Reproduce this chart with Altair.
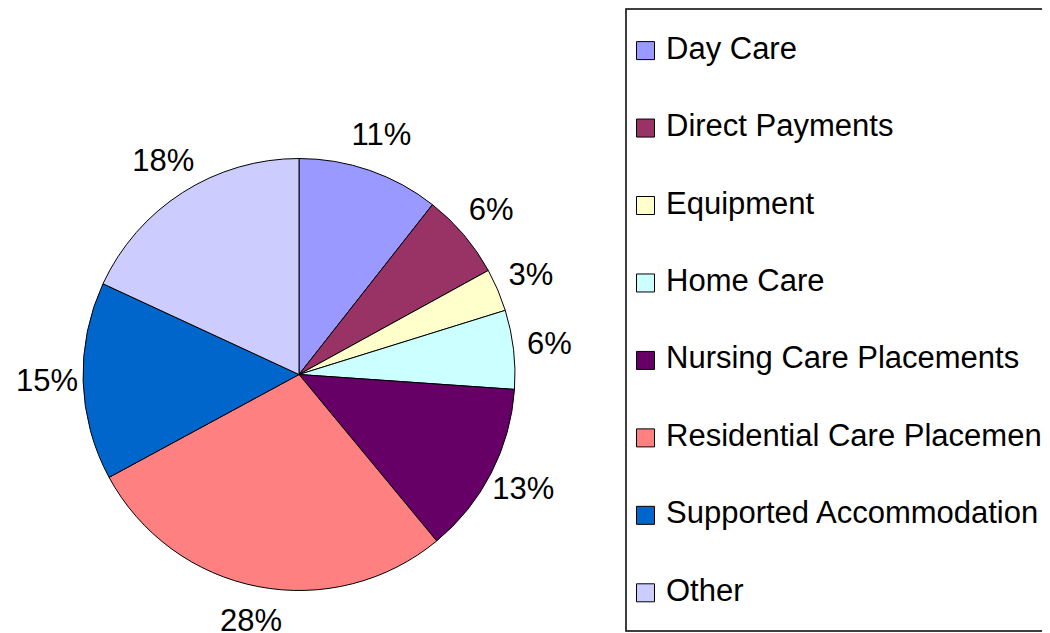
import altair as alt
import pandas as pd

categories = ["Day Care", "Direct Payments", "Equipment", "Home Care",
              "Nursing Care Placements", "Residential Care Placements",
              "Supported Accommodation", "Other"]
values = [10.6, 6.4, 3.2, 5.9, 12.9, 28.1, 14.8, 18.1]
labels = ["11%", "6%", "3%", "6%", "13%", "28%", "15%", "18%"]
colors = ["#9999FF", "#993366", "#FFFFCC", "#CCFFFF",
          "#660066", "#FF8080", "#0066CC", "#CCCCFF"]

df = pd.DataFrame({
    "category": categories,
    "value": values,
    "label": labels,
    "order": list(range(len(categories))),
})

FONT = "Liberation Sans"
CX, CY = 291, 366.5

color = alt.Color("category:N", scale=alt.Scale(domain=categories, range=colors), legend=None)
theta = alt.Theta("value:Q", stack=True)
order = alt.Order("order:Q")

base = alt.Chart(df)

arcs = base.mark_arc(radius=216, stroke="black", strokeWidth=1).encode(
    theta=theta, color=color, order=order,
    x=alt.value(CX), y=alt.value(CY),
)

pct = base.mark_text(radius=252, fontSize=31, font=FONT, color="black").encode(
    theta=theta, order=order, text="label:N",
    x=alt.value(CX), y=alt.value(CY),
)

ly = alt.Y("category:N", sort=categories, axis=None,
           scale=alt.Scale(type="point", domain=categories, range=[41.6, 583.8], padding=0))

leg_sq = base.mark_point(shape="square", filled=True, size=324, stroke="black",
                         strokeWidth=1, opacity=1, yOffset=1).encode(
    x=alt.value(637.5), y=ly, color=color,
)

leg_txt = base.mark_text(align="left", baseline="middle", fontSize=31, font=FONT,
                         color="black").encode(
    x=alt.value(658), y=ly, text="category:N",
)

box = base.mark_rect(fillOpacity=0, stroke="black", strokeWidth=1.5).encode(
    x=alt.value(618), x2=alt.value(1080), y=alt.value(1), y2=alt.value(623),
).transform_filter(alt.datum.order == 0)

chart = alt.layer(box, arcs, pct, leg_sq, leg_txt).properties(
    width=1034, height=625, padding=0, autosize=alt.AutoSizeParams(type="none"),
).configure(background="white", view=alt.ViewConfig(stroke=None))

chart.save("out.html", embed_options={"renderer": "svg", "actions": False})
